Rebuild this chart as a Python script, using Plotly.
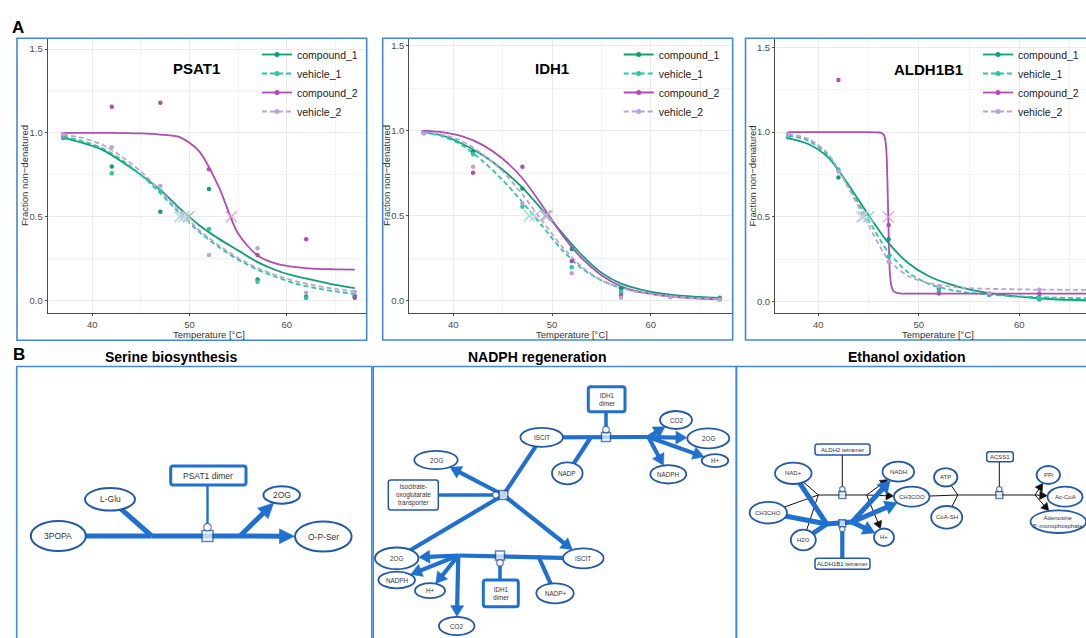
import math
import plotly.graph_objects as go

W, H = 1086, 638
FONT = "Arial, Liberation Sans, Helvetica, sans-serif"

# ---------------------------------------------------------------- data (panel A)
SERIES = ["compound_1", "vehicle_1", "compound_2", "vehicle_2"]
SERIES_COLORS = ["#0f9e76", "#2bc6a2", "#b04cb3", "#b9a3d9"]
TM_COLORS = ["#86d3bc", "#94dfcb", "#d89bda", "#d3c6ea"]
SERIES_DASH = ["solid", "5px,3px", "solid", "5px,3px"]

TEMPS = [37, 42, 47, 52, 57, 62, 67]
CURVE_T = [37, 39, 41, 43, 45, 47, 49, 51, 53, 55, 57, 59, 61, 63, 65, 67]

PSAT1_C1_PTS = [0.970, 0.800, 0.530, 0.666, 0.127, 0.024, 0.018]
PSAT1_V1_PTS = [0.975, 0.760, 0.654, 0.427, 0.113, 0.016, 0.030]
PSAT1_C2_PTS = [0.990, 1.156, 1.180, 0.783, 0.272, 0.367, 0.024]
PSAT1_V2_PTS = [0.990, 0.914, 0.684, 0.272, 0.312, 0.048, 0.054]
PSAT1_C1_CURVE = [0.97, 0.94, 0.90, 0.83, 0.75, 0.66, 0.55, 0.45, 0.37, 0.30, 0.23, 0.18, 0.145, 0.12, 0.095, 0.075]
PSAT1_V1_CURVE = [0.98, 0.95, 0.91, 0.84, 0.75, 0.64, 0.52, 0.41, 0.32, 0.245, 0.185, 0.14, 0.10, 0.075, 0.055, 0.04]
PSAT1_C2_CURVE = [1.0, 1.0, 1.0, 0.999, 0.997, 0.99, 0.975, 0.89, 0.68, 0.40, 0.27, 0.22, 0.20, 0.19, 0.187, 0.185]
PSAT1_V2_CURVE = [0.99, 0.97, 0.93, 0.86, 0.77, 0.655, 0.535, 0.42, 0.33, 0.255, 0.195, 0.15, 0.115, 0.09, 0.07, 0.055]
PSAT1_TM = [49.9, 49.0, 54.3, 49.4]

IDH1_C1_PTS = [0.990, 0.876, 0.660, 0.304, 0.073, 0.026, 0.018]
IDH1_V1_PTS = [0.985, 0.861, 0.553, 0.196, 0.053, 0.022, 0.012]
IDH1_C2_PTS = [0.990, 0.753, 0.788, 0.233, 0.033, 0.024, 0.008]
IDH1_V2_PTS = [0.985, 0.788, 0.573, 0.161, 0.018, 0.020, 0.006]
IDH1_C1_CURVE = [0.99, 0.97, 0.92, 0.855, 0.77, 0.665, 0.535, 0.40, 0.27, 0.165, 0.10, 0.065, 0.043, 0.03, 0.022, 0.016]
IDH1_V1_CURVE = [0.99, 0.965, 0.91, 0.82, 0.71, 0.58, 0.44, 0.30, 0.19, 0.12, 0.075, 0.05, 0.033, 0.022, 0.015, 0.01]
IDH1_C2_CURVE = [1.0, 0.99, 0.965, 0.915, 0.835, 0.72, 0.56, 0.39, 0.25, 0.15, 0.085, 0.05, 0.032, 0.02, 0.013, 0.008]
IDH1_V2_CURVE = [0.99, 0.975, 0.935, 0.86, 0.76, 0.625, 0.47, 0.32, 0.20, 0.12, 0.075, 0.048, 0.032, 0.021, 0.014, 0.01]
IDH1_TM = [49.3, 47.7, 49.5, 48.3]

ALDH_C1_PTS = [0.969, 0.733, 0.368, 0.079, 0.043, 0.014, 0.008]
ALDH_V1_PTS = [0.975, 0.780, 0.265, 0.060, 0.040, 0.020, 0.020]
ALDH_C2_PTS = [0.989, 1.307, 0.452, 0.049, 0.045, 0.045, 0.045]
ALDH_V2_PTS = [0.985, 0.767, 0.236, 0.090, 0.050, 0.070, 0.070]
ALDH_C1_CURVE = [0.965, 0.93, 0.85, 0.69, 0.51, 0.345, 0.225, 0.15, 0.105, 0.072, 0.05, 0.035, 0.024, 0.016, 0.011, 0.008]
ALDH_V1_CURVE = [0.98, 0.95, 0.86, 0.68, 0.48, 0.29, 0.17, 0.105, 0.072, 0.052, 0.042, 0.034, 0.029, 0.025, 0.022, 0.02]
ALDH_V2_CURVE = [0.99, 0.96, 0.87, 0.67, 0.45, 0.245, 0.15, 0.11, 0.09, 0.08, 0.076, 0.074, 0.072, 0.071, 0.07, 0.07]
ALDH_C2_T = [37, 40, 43, 45, 46.0, 46.3, 46.55, 46.7, 46.8, 46.88, 46.96, 47.04, 47.12, 47.25, 47.45, 47.75,
             48.3, 50, 55, 60, 67]
ALDH_C2_CURVE = [1.0, 1.0, 1.0, 1.0, 0.998, 0.995, 0.98, 0.94, 0.86, 0.70, 0.50, 0.30, 0.17, 0.10, 0.065,
                 0.053, 0.048, 0.048, 0.048, 0.048, 0.048]
ALDH_TM = [45.0, 44.5, 46.97, 44.3]

PROTEINS = ["PSAT1", "IDH1", "ALDH1B1"]
TICK_T = [40, 50, 60]
TICK_F = [0.0, 0.5, 1.0, 1.5]
TICK_F_TEXT = ["0.0", "0.5", "1.0", "1.5"]

panels = [
    dict(pts=[PSAT1_C1_PTS, PSAT1_V1_PTS, PSAT1_C2_PTS, PSAT1_V2_PTS],
         curves=[(CURVE_T, PSAT1_C1_CURVE), (CURVE_T, PSAT1_V1_CURVE),
                 (CURVE_T, PSAT1_C2_CURVE), (CURVE_T, PSAT1_V2_CURVE)],
         tm=PSAT1_TM),
    dict(pts=[IDH1_C1_PTS, IDH1_V1_PTS, IDH1_C2_PTS, IDH1_V2_PTS],
         curves=[(CURVE_T, IDH1_C1_CURVE), (CURVE_T, IDH1_V1_CURVE),
                 (CURVE_T, IDH1_C2_CURVE), (CURVE_T, IDH1_V2_CURVE)],
         tm=IDH1_TM),
    dict(pts=[ALDH_C1_PTS, ALDH_V1_PTS, ALDH_C2_PTS, ALDH_V2_PTS],
         curves=[(CURVE_T, ALDH_C1_CURVE), (CURVE_T, ALDH_V1_CURVE),
                 (ALDH_C2_T, ALDH_C2_CURVE), (CURVE_T, ALDH_V2_CURVE)],
         tm=ALDH_TM),
]

# ---------------------------------------------------------------- data (panel B)
SER_NODES = {
    "3popa": ("3POPA", 58.3, 536.0, 27.5, 15.0),
    "lglu": ("L-Glu", 110.0, 499.3, 25.0, 11.2),
    "2og": ("2OG", 281.7, 495.0, 18.3, 8.7),
    "opser": ("O-P-Ser", 323.3, 536.5, 28.3, 15.0),
}
SER_BOXES = {"psat1": ("PSAT1 dimer", 170.7, 466.0, 246.0, 485.0, 3.0)}
SER_POINTS = {"j1": (151.7, 536.0), "sq": (207.5, 536.0), "j2": (240.0, 536.0)}
SER_EDGES = [("3popa", "j1", 0, "thick"), ("lglu", "j1", 0, "thick"), ("j1", "j2", 0, "thick"),
             ("j2", "opser", 1, "thick"), ("j2", "2og", 1, "thick")]
SER_PROCESS = [("sq", "psat1", "up", "mod")]

NAD_NODES = {
    "iscit_t": ("ISCIT", 541.7, 437.3, 21.3, 9.5),
    "co2_t": ("CO2", 676.0, 420.0, 16.0, 9.0),
    "2og_t": ("2OG", 708.3, 438.3, 21.0, 10.0),
    "h_t": ("H+", 715.0, 460.7, 13.3, 6.5),
    "nadph_t": ("NADPH", 668.3, 474.3, 18.0, 9.2),
    "nadp_t": ("NADP", 567.3, 473.3, 15.3, 11.0),
    "2og_m": ("2OG", 436.0, 460.0, 21.7, 9.2),
    "iscit_b": ("ISCIT", 583.3, 558.3, 20.3, 10.0),
    "2og_b": ("2OG", 396.7, 558.3, 21.7, 10.8),
    "nadph_b": ("NADPH", 396.7, 580.0, 18.3, 8.3),
    "h_b": ("H+", 430.0, 590.7, 15.0, 7.5),
    "nadp_b": ("NADP+", 555.0, 593.3, 18.7, 10.0),
    "co2_b": ("CO2", 456.7, 626.0, 17.8, 9.2),
}
NAD_BOXES = {
    "idh_t": ("IDH1<br>dimer", 588.3, 386.7, 625.0, 411.7, 3.0),
    "trans": ("Isocitrate-<br>oxoglutarate<br>transporter", 388.3, 480.0, 438.3, 510.0, 1.5),
    "idh_b": ("IDH1<br>dimer", 483.3, 580.0, 518.3, 606.7, 3.0),
}
NAD_POINTS = {
    "sq_t": (606.0, 437.0), "jn_t": (591.0, 437.0), "br_t": (648.3, 437.0),
    "sq_m": (503.3, 495.0),
    "sq_b": (500.0, 555.5), "jn_b": (538.0, 555.5), "br_b": (458.3, 555.5),
}
NAD_EDGES = [
    ("iscit_t", "br_t", 0, "thick"), ("nadp_t", "jn_t", 0, "thick"),
    ("br_t", "co2_t", 1, "thick"), ("br_t", "2og_t", 1, "thick"),
    ("br_t", "h_t", 1, "thick"), ("br_t", "nadph_t", 1, "thick"),
    ("sq_m", "iscit_t", 0, "thick"), ("sq_m", "2og_m", 1, "thick"),
    ("sq_m", "2og_b", 0, "thick"), ("sq_m", "iscit_b", 1, "thick"),
    ("iscit_b", "br_b", 0, "thick"), ("br_b", "2og_b", 1, "thick"),
    ("nadp_b", "jn_b", 0, "thick"), ("br_b", "nadph_b", 1, "thick"),
    ("br_b", "h_b", 1, "thick"), ("br_b", "co2_b", 1, "thick"),
]
NAD_PROCESS = [("sq_t", "idh_t", "up", "thick"), ("sq_m", "trans", "left", "thick"),
               ("sq_b", "idh_b", "down", "thick")]

ETH_NODES = {
    "nad": ("NAD+", 793.3, 473.3, 18.3, 10.7),
    "ch3cho": ("CH3CHO", 768.3, 512.7, 18.7, 10.8),
    "h2o": ("H2O", 803.3, 540.0, 12.5, 10.3),
    "nadh": ("NADH", 898.3, 471.7, 15.8, 10.0),
    "ch3coo": ("CH3COO", 911.7, 496.7, 17.8, 10.0),
    "h": ("H+", 884.0, 537.3, 10.0, 8.8),
    "atp": ("ATP", 945.7, 477.3, 11.7, 9.2),
    "coa": ("CoA-SH", 946.7, 517.3, 15.5, 11.3),
    "ppi": ("PPi", 1048.3, 475.0, 11.7, 9.0),
    "accoa": ("Ac-CoA", 1065.0, 496.7, 17.5, 10.0),
    "amp": ("Adenosine<br>5'-monophosphate", 1058.3, 521.7, 27.8, 11.3),
}
ETH_BOXES = {
    "aldh2": ("ALDH2 tetramer", 815.0, 444.0, 870.0, 455.0, 1.5),
    "aldh1b1": ("ALDH1B1 tetramer", 815.0, 558.3, 870.0, 569.3, 1.5),
    "acss1": ("ACSS1", 986.7, 451.7, 1013.3, 461.7, 1.5),
}
ETH_POINTS = {
    "l1": (818.3, 495.0), "sq1": (842.3, 495.0), "r1": (866.7, 495.0),
    "l2": (826.7, 524.0), "sq2": (842.3, 523.3), "r2": (852.0, 522.0),
    "l3": (957.7, 495.0), "sq3": (999.3, 495.0), "r3": (1035.0, 495.0),
}
ETH_EDGES = [
    ("nad", "l1", 0, "thin"), ("ch3cho", "l1", 0, "thin"), ("h2o", "l1", 0, "thin"),
    ("l1", "r1", 0, "thin"), ("r1", "nadh", 1, "thin"), ("r1", "ch3coo", 1, "thin"), ("r1", "h", 1, "thin"),
    ("ch3coo", "l3", 0, "thin"), ("atp", "l3", 0, "thin"), ("coa", "l3", 0, "thin"),
    ("l3", "r3", 0, "thin"), ("r3", "ppi", 1, "thin"), ("r3", "accoa", 1, "thin"), ("r3", "amp", 1, "thin"),
    ("nad", "l2", 0, "thick"), ("ch3cho", "l2", 0, "thick"), ("h2o", "l2", 0, "thick"),
    ("l2", "r2", 0, "thick"), ("r2", "nadh", 1, "thick"), ("r2", "ch3coo", 1, "thick"), ("r2", "h", 1, "thick"),
]
ETH_PROCESS = [("sq1", "aldh2", "up", "thin"), ("sq2", "aldh1b1", "down", "thick"),
               ("sq3", "acss1", "up", "thin")]

SECTION_TITLES = ["Serine biosynthesis", "NADPH regeneration", "Ethanol oxidation"]

# ---------------------------------------------------------------- styling / geometry
BORDER = "#4289d8"
BLUE = "#1f70cf"
NODE_LINE = "#2259a8"
SQ_LINE = "#1d4f95"

TOP_Y = (39.0, 313.3)
PANEL_GEOM = [
    dict(x=(47.7, 366.0), xr=[35.41, 68.16], yr=[-0.075, 1.5596], title=(196.7, 68.5),
         leg=299.0, xt=209.0, yt=24.0),
    dict(x=(409.3, 732.2), xr=[35.54, 68.26], yr=[-0.0741, 1.539], title=(551.7, 68.5),
         leg=660.7, xt=572.0, yt=386.0),
    dict(x=(775.0, 1086.0), xr=[35.69, 66.64], yr=[-0.0684, 1.549], title=(928.0, 69.5),
         leg=1020.0, xt=938.0, yt=751.5),
]
TOP_BORDERS = [(17.0, 38.3, 366.7, 340.3), (382.7, 38.3, 732.7, 340.0), (745.5, 38.3, 1095, 340.0)]
BOT_BORDERS = [(16.7, 366.5, 371.8, 700), (373.3, 366.5, 736.5, 700), (736.3, 366.5, 1095, 700)]
TITLE_X = [171.0, 537.0, 906.5]

DIAGRAMS = [
    dict(nodes=SER_NODES, boxes=SER_BOXES, points=SER_POINTS, edges=SER_EDGES, process=SER_PROCESS,
         thick=5.0, head=(15.0, 7.5), thin=1.0, thin_head=(7, 4), mod_w=2.4, sq=11, cr=3.8,
         font=8.5, node_w=2.0),
    dict(nodes=NAD_NODES, boxes=NAD_BOXES, points=NAD_POINTS, edges=NAD_EDGES, process=NAD_PROCESS,
         thick=4.2, head=(11.0, 6.5), thin=1.0, thin_head=(7, 4), mod_w=2.4, sq=9, cr=3.3,
         font=6.3, node_w=1.8),
    dict(nodes=ETH_NODES, boxes=ETH_BOXES, points=ETH_POINTS, edges=ETH_EDGES, process=ETH_PROCESS,
         thick=5.0, head=(12.0, 7.0), thin=1.0, thin_head=(7.5, 4.2), mod_w=1.0, sq=7, cr=2.7,
         font=6.0, node_w=1.8),
]


def px_x(v):
    return v / W


def px_y(v):
    return 1 - v / H


def ann(text, x, y, size, color="#000", xref="paper", yref="paper", angle=0):
    return dict(text=text, x=x, y=y, xref=xref, yref=yref, showarrow=False, textangle=angle,
                xanchor="center", yanchor="middle", font=dict(family=FONT, size=size, color=color))


fig = go.Figure()
shapes = []
annotations = []
layout_axes = {}

# ---------------------------------------------------------------- panel A
for i, (prot, data, g) in enumerate(zip(PROTEINS, panels, PANEL_GEOM)):
    sfx = "" if i == 0 else str(i + 1)
    xa, ya = "x" + sfx, "y" + sfx
    leg = "legend" + sfx
    for k in range(4):
        tx, ty = data["curves"][k]
        fig.add_trace(go.Scatter(x=tx, y=ty, mode="lines", xaxis=xa, yaxis=ya, showlegend=False,
                                 line=dict(color=SERIES_COLORS[k], width=1.8, dash=SERIES_DASH[k],
                                           shape="spline", smoothing=0.8),
                                 hoverinfo="skip"))
    for k in range(4):
        fig.add_trace(go.Scatter(x=TEMPS, y=data["pts"][k], mode="markers", xaxis=xa, yaxis=ya,
                                 showlegend=False, marker=dict(color=SERIES_COLORS[k], size=4.5),
                                 hoverinfo="skip"))
    for k in range(4):
        fig.add_trace(go.Scatter(x=[data["tm"][k]], y=[0.5], mode="markers", xaxis=xa, yaxis=ya,
                                 showlegend=False,
                                 marker=dict(symbol="x-thin-open", size=11, color=TM_COLORS[k],
                                             line=dict(color=TM_COLORS[k], width=1.3)),
                                 hoverinfo="skip"))
    for k in range(4):
        fig.add_trace(go.Scatter(x=[None], y=[None], mode="lines+markers", name=SERIES[k],
                                 xaxis=xa, yaxis=ya, legend=leg, showlegend=True,
                                 line=dict(color=SERIES_COLORS[k], width=1.8, dash=SERIES_DASH[k]),
                                 marker=dict(color=SERIES_COLORS[k], size=5)))
    common = dict(showline=True, linecolor="#4d4d4d", linewidth=1, ticks="outside", ticklen=2,
                  tickcolor="#4d4d4d", tickwidth=1, showgrid=True, gridcolor="#ebebeb", gridwidth=1,
                  zeroline=False, tickfont=dict(family=FONT, size=9.5, color="#4d4d4d"),
                  fixedrange=True)
    layout_axes["xaxis" + sfx] = dict(
        domain=[px_x(g["x"][0]), px_x(g["x"][1])], range=g["xr"], anchor=ya,
        tickvals=TICK_T, minor=dict(dtick=5, tick0=35, showgrid=True, gridcolor="#f3f3f3", gridwidth=0.8,
                                   ticks=""),
        **common)
    layout_axes["yaxis" + sfx] = dict(
        domain=[px_y(TOP_Y[1]), px_y(TOP_Y[0])], range=g["yr"], anchor=xa,
        tickvals=TICK_F, ticktext=TICK_F_TEXT,
        minor=dict(dtick=0.25, tick0=0, showgrid=True, gridcolor="#f3f3f3", gridwidth=0.8, ticks=""),
        **common)
    layout_axes[leg] = dict(x=px_x(g["leg"] - 42), y=px_y(40), xanchor="left", yanchor="top",
                            bgcolor="rgba(0,0,0,0)", font=dict(family=FONT, size=10.5, color="#1a1a1a"),
                            itemwidth=30, tracegroupgap=0)
    annotations.append(ann("<b>%s</b>" % prot, px_x(g["title"][0]), px_y(g["title"][1]), 15))
    annotations.append(ann("Temperature [°C]", px_x(g["xt"]), px_y(334.8), 9.5, "#333"))
    annotations.append(ann("Fraction non−denatured", px_x(g["yt"]), px_y(176), 9.5, "#333", angle=-90))

for (x0, y0, x1, y1) in TOP_BORDERS + BOT_BORDERS:
    shapes.append(dict(type="rect", xref="paper", yref="paper", x0=px_x(x0), x1=px_x(x1),
                       y0=px_y(y1), y1=px_y(y0), line=dict(color=BORDER, width=1.6), layer="above"))

annotations.append(ann("<b>A</b>", px_x(17.5), px_y(27), 17))
annotations.append(ann("<b>B</b>", px_x(19), px_y(354), 17))
for t, tx in zip(SECTION_TITLES, TITLE_X):
    annotations.append(ann("<b>%s</b>" % t, px_x(tx), px_y(356.5), 14))

# ---------------------------------------------------------------- panel B (diagrams)
DX, DY = "x4", "y4"


def rrect_path(x0, y0, x1, y1, r):
    return (f"M{x0 + r},{y0} L{x1 - r},{y0} Q{x1},{y0} {x1},{y0 + r} L{x1},{y1 - r} "
            f"Q{x1},{y1} {x1 - r},{y1} L{x0 + r},{y1} Q{x0},{y1} {x0},{y1 - r} "
            f"L{x0},{y0 + r} Q{x0},{y0} {x0 + r},{y0} Z")


def add_line(x1, y1, x2, y2, w, color):
    shapes.append(dict(type="line", xref=DX, yref=DY, x0=x1, y0=y1, x1=x2, y1=y2,
                       line=dict(color=color, width=w), layer="below"))


def add_arrow(x1, y1, x2, y2, w, color, head):
    hl, hw = head
    dx, dy = x2 - x1, y2 - y1
    L = math.hypot(dx, dy)
    ux, uy = dx / L, dy / L
    bx, by = x2 - ux * hl, y2 - uy * hl
    add_line(x1, y1, bx + ux * 1.5, by + uy * 1.5, w, color)
    path = (f"M{x2},{y2} L{bx - uy * hw},{by + ux * hw} L{bx + uy * hw},{by - ux * hw} Z")
    shapes.append(dict(type="path", xref=DX, yref=DY, path=path, fillcolor=color,
                       line=dict(color=color, width=0.5), layer="below"))


sq_x, sq_y, sq_s = [], [], []
ci_x, ci_y, ci_s = [], [], []

for d in DIAGRAMS:
    nodes, boxes, pts = d["nodes"], d["boxes"], d["points"]

    def loc(key):
        if key in pts:
            return pts[key]
        if key in nodes:
            return nodes[key][1], nodes[key][2]
        b = boxes[key]
        return (b[1] + b[3]) / 2, (b[2] + b[4]) / 2

    for a, b, arrow, style in d["edges"]:
        x1, y1 = loc(a)
        x2, y2 = loc(b)
        if style == "thick":
            w, col, head = d["thick"], BLUE, d["head"]
        else:
            w, col, head = d["thin"], "#111111", d["thin_head"]
        if arrow and b in nodes:
            _, cx, cy, rx, ry = nodes[b]
            vx, vy = x1 - cx, y1 - cy
            s = 1.0 / math.sqrt((vx / rx) ** 2 + (vy / ry) ** 2)
            x2, y2 = cx + vx * s * 1.02, cy + vy * s * 1.02
            add_arrow(x1, y1, x2, y2, w, col, head)
        else:
            add_line(x1, y1, x2, y2, w, col)

    for sqk, bk, direction, style in d["process"]:
        sx, sy = pts[sqk]
        _, bx0, by0, bx1, by1, _ = boxes[bk]
        half, r = d["sq"] / 2.0, d["cr"]
        if style == "thick":
            w, col = d["thick"] * 0.85, BLUE
        elif style == "mod":
            w, col = d["mod_w"], BLUE
        else:
            w, col = d["thin"], "#111111"
        if direction == "up":
            cx, cy = sx, sy - half - r + 0.5
            add_line(cx, cy - r, cx, by1, w, col)
        elif direction == "down":
            cx, cy = sx, sy + half + r - 0.5
            add_line(cx, cy + r, cx, by0, w, col)
        else:
            cx, cy = sx - half - r + 0.5, sy
            add_line(cx - r, cy, bx1, cy, w, col)
        sq_x.append(sx)
        sq_y.append(sy)
        sq_s.append(d["sq"])
        ci_x.append(cx)
        ci_y.append(cy)
        ci_s.append(2 * r)

    for key, (lab, cx, cy, rx, ry) in nodes.items():
        shapes.append(dict(type="circle", xref=DX, yref=DY, x0=cx - rx, x1=cx + rx, y0=cy - ry, y1=cy + ry,
                           fillcolor="white", line=dict(color=NODE_LINE, width=d["node_w"]), layer="below"))
        annotations.append(ann(lab, cx, cy, d["font"], "#333", DX, DY))
    for key, (lab, x0, y0, x1, y1, bw) in boxes.items():
        shapes.append(dict(type="path", xref=DX, yref=DY, path=rrect_path(x0, y0, x1, y1, 2.5),
                           fillcolor="white", line=dict(color=BLUE if bw > 2 else NODE_LINE, width=bw),
                           layer="below"))
        annotations.append(ann(lab, (x0 + x1) / 2, (y0 + y1) / 2, d["font"], "#333", DX, DY))

fig.add_trace(go.Scatter(x=sq_x, y=sq_y, mode="markers", xaxis=DX, yaxis=DY, showlegend=False,
                         marker=dict(symbol="square", size=sq_s, color="white",
                                     line=dict(color=SQ_LINE, width=1.5)), hoverinfo="skip"))
fig.add_trace(go.Scatter(x=ci_x, y=ci_y, mode="markers", xaxis=DX, yaxis=DY, showlegend=False,
                         marker=dict(symbol="circle", size=ci_s, color="white",
                                     line=dict(color=SQ_LINE, width=1.2)), hoverinfo="skip"))

layout_axes["xaxis4"] = dict(domain=[0, 1], range=[0, W], anchor="y4", visible=False, fixedrange=True)
layout_axes["yaxis4"] = dict(domain=[0, px_y(341)], range=[H, 341], anchor="x4", visible=False,
                             fixedrange=True)

fig.update_layout(
    width=W, height=H, margin=dict(l=0, r=0, t=0, b=0), autosize=False,
    paper_bgcolor="white", plot_bgcolor="white",
    font=dict(family=FONT), shapes=shapes, annotations=annotations,
    **layout_axes,
)
fig.write_html("out.html")
